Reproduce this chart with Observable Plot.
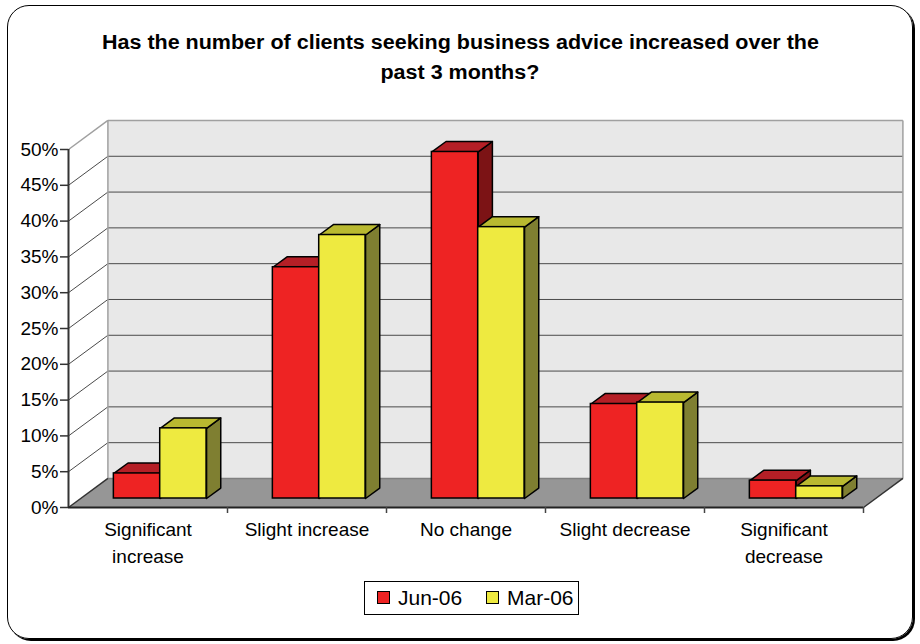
<!DOCTYPE html>
<html>
<head>
<meta charset="utf-8">
<script src="https://cdn.jsdelivr.net/npm/d3@7"></script>
<script src="https://cdn.jsdelivr.net/npm/@observablehq/plot@0.6"></script>
<style>
  html, body { margin: 0; padding: 0; background: #fff; }
  #wrap { position: relative; width: 920px; height: 644px; overflow: hidden; font-family: "Liberation Sans", Arial, sans-serif; }
  #frame { position: absolute; left: 7px; top: 5px; width: 906px; height: 634px; border: 1.5px solid #000; border-radius: 22px; box-shadow: 2px 2px 0 #000; box-sizing: border-box; }
  #chart { position: absolute; left: 0; top: 0; }
  #title { position: absolute; left: 0; top: 27px; width: 920px; text-align: center; font-weight: bold; font-size: 20px; line-height: 30px; color: #000; }
  #title div { display: block; white-space: nowrap; }
  #title span { display: inline-block; transform-origin: center; }
  #legend { position: absolute; left: 364px; top: 581px; width: 215px; height: 34px; border: 1px solid #000; box-sizing: border-box; font-size: 21px; color: #000; }
  .sw { position: absolute; top: 9px; width: 13px; height: 13px; border: 1px solid #000; box-sizing: border-box; }
  .lt { position: absolute; top: 4px; line-height: 24px; white-space: nowrap; }
</style>
</head>
<body>
<div id="wrap">
  <div id="frame"></div>
  <div id="chart"></div>
  <div id="title"></div>
  <div id="legend"></div>
</div>
<script>
// ---- data ----
const categories = ["Significant increase", "Slight increase", "No change", "Slight decrease", "Significant decrease"];
const categoryLabels = ["Significant\nincrease", "Slight increase", "No change", "Slight decrease", "Significant\ndecrease"];
const seriesNames = ["Jun-06", "Mar-06"];
const jun06 = [3.5, 32.3, 48.4, 13.2, 2.5];
const mar06 = [9.8, 36.8, 37.9, 13.4, 1.7];
const yTicks = [0, 5, 10, 15, 20, 25, 30, 35, 40, 45, 50];
const titleLines = ["Has the number of clients seeking business advice increased over the", "past 3 months?"];

// ---- styling ----
const colors = {
  "Jun-06": {front: "#ee2323", top: "#b51f26", side: "#7c1315"},
  "Mar-06": {front: "#eeea40", top: "#b9b930", side: "#7f7f31"}
};
const DX = 0.2478, DY = 4.054;      // depth projection (data units per full depth)
const Z0 = 0.31, Z1 = 0.67;          // bar depth span
const W = 0.2915;                    // bar width (category units)
const P = (x, y, z) => ({x: x + z * DX, y: y + z * DY});

const values = {"Jun-06": jun06, "Mar-06": mar06};
const bars = [];
categories.forEach((c, i) => {
  seriesNames.forEach((s, k) => {
    const x0 = i + 0.5 - W + k * W;
    bars.push({category: c, series: s, value: values[s][i], x0, x1: x0 + W});
  });
});

// faces
function poly(list, id, fill, pts) {
  const closed = pts.concat([pts[0]]);
  closed.forEach(p => list.push({id, fill, x: p.x, y: p.y}));
}
const bg = [];
poly(bg, "back", "#e8e8e8", [P(0,0,1), P(5,0,1), P(5,50,1), P(0,50,1)]);
poly(bg, "left", "#ffffff", [P(0,0,0), P(0,0,1), P(0,50,1), P(0,50,0)]);
poly(bg, "floor", "#969696", [P(0,0,0), P(5,0,0), P(5,0,1), P(0,0,1)]);

const grid = [];
yTicks.forEach(t => {
  if (t > 0 && t < 50) grid.push({a: P(0,t,1), b: P(5,t,1)});
  if (t > 0 && t < 50) grid.push({a: P(0,t,0), b: P(0,t,1)});
});
const edges = [
  {a: P(0,50,0), b: P(0,50,1), c: "#a0a0a0"},
  {a: P(0,50,1), b: P(5,50,1), c: "#a0a0a0"},
  {a: P(5,50,1), b: P(5,0,1), c: "#a0a0a0"},
  {a: P(0,0,1), b: P(0,50,1), c: "#a0a0a0"},
  {a: P(0,0,1), b: P(5,0,1), c: "#808080"},
  {a: P(0,0,0), b: P(0,0,1), c: "#333"},
  {a: P(5,0,0), b: P(5,0,1), c: "#333"}
];

const sides = [], tops = [];
bars.forEach((b, j) => {
  const v = b.value, col = colors[b.series];
  poly(sides, "s" + j, col.side, [P(b.x1,0,Z0), P(b.x1,0,Z1), P(b.x1,v,Z1), P(b.x1,v,Z0)]);
  poly(tops, "t" + j, col.top, [P(b.x0,v,Z0), P(b.x1,v,Z0), P(b.x1,v,Z1), P(b.x0,v,Z1)]);
});

const chart = Plot.plot({
  width: 920,
  height: 644,
  marginLeft: 68,
  marginRight: 57,
  marginTop: 149,
  marginBottom: 137,
  style: {fontFamily: "'Liberation Sans', Arial, sans-serif", fontSize: "19px", color: "#000", background: "transparent"},
  x: {domain: [0, 5], axis: null, label: null},
  y: {domain: [0, 50], axis: null, label: null},
  color: {type: "identity"},
  marks: [
    Plot.line(bg, {x: "x", y: "y", z: "id", fill: "fill", stroke: "none"}),
    Plot.link(grid, {x1: d => d.a.x, y1: d => d.a.y, x2: d => d.b.x, y2: d => d.b.y, stroke: "#4a4a4a", strokeWidth: 1}),
    Plot.link(edges, {x1: d => d.a.x, y1: d => d.a.y, x2: d => d.b.x, y2: d => d.b.y, stroke: d => d.c, strokeWidth: 1.5}),
    Plot.line(sides, {x: "x", y: "y", z: "id", fill: "fill", stroke: "#000", strokeWidth: 1.5, strokeLinejoin: "round"}),
    Plot.line(tops, {x: "x", y: "y", z: "id", fill: "fill", stroke: "#000", strokeWidth: 1.5, strokeLinejoin: "round"}),
    Plot.rect(bars, {
      x1: d => d.x0 + Z0 * DX, x2: d => d.x1 + Z0 * DX,
      y1: Z0 * DY, y2: d => d.value + Z0 * DY,
      fill: d => colors[d.series].front, stroke: "#000", strokeWidth: 1.5, inset: 0
    }),
    Plot.ruleX([0], {y1: 0, y2: 50, stroke: "#333", strokeWidth: 2}),
    Plot.ruleY([0], {x1: 0, x2: 5, stroke: "#222", strokeWidth: 2}),
    Plot.axisY(yTicks, {label: null, tickSize: 8, tickPadding: 2, tickFormat: d => d + "%", fontSize: 19, stroke: "#333", strokeWidth: 1.5, fill: "#000"}),
    Plot.axisX([1, 2, 3, 4, 5], {label: null, tickSize: 6, tickFormat: () => "", stroke: "#444", strokeWidth: 1.5}),
    Plot.axisX(categories.map((c, i) => i + 0.5), {label: null, tickSize: 0, tickPadding: 9, tickFormat: v => categoryLabels[Math.floor(v)], fontSize: 19, lineHeight: 1.42, fill: "#000"})
  ]
});
document.getElementById("chart").appendChild(chart);

// title
const titleEl = document.getElementById("title");
const cnv = document.createElement("canvas").getContext("2d");
cnv.font = "bold 20px 'Liberation Sans', Arial, sans-serif";
const fullW = cnv.measureText(titleLines[0]).width;
const sx = 717 / fullW;
titleLines.forEach(t => {
  const row = document.createElement("div");
  const sp = document.createElement("span");
  sp.textContent = t;
  sp.style.transform = `scaleX(${sx})`;
  row.appendChild(sp);
  titleEl.appendChild(row);
});

// legend
const leg = document.getElementById("legend");
const legPos = [{sw: 12, tx: 33}, {sw: 121, tx: 142}];
seriesNames.forEach((s, i) => {
  const sw = document.createElement("div");
  sw.className = "sw";
  sw.style.left = legPos[i].sw + "px";
  sw.style.background = colors[s].front;
  leg.appendChild(sw);
  const tx = document.createElement("div");
  tx.className = "lt";
  tx.style.left = legPos[i].tx + "px";
  tx.textContent = s;
  leg.appendChild(tx);
});
</script>
</body>
</html>
